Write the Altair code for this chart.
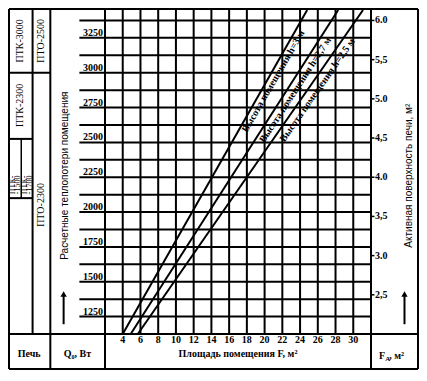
import altair as alt
import pandas as pd

# ---------------- data ----------------
F_GRID = [2, 4, 6, 8, 10, 12, 14, 16, 18, 20, 22, 24, 26, 28, 30, 32]
F_TICKS = [4, 6, 8, 10, 12, 14, 16, 18, 20, 22, 24, 26, 28, 30]
Q_GRID = [1125, 1250, 1375, 1500, 1625, 1750, 1875, 2000, 2125, 2250,
          2375, 2500, 2625, 2750, 2875, 3000, 3125, 3250, 3375]
Q_LABELS = [1250, 1500, 1750, 2000, 2250, 2500, 2750, 3000, 3250]
FA_TICKS = [2.5, 3.0, 3.5, 4.0, 4.5, 5.0, 5.5, 6.0]
FA_LABELS = ["2,5", "3.0", "3,5", "4.0", "4,5", "5.0", "5,5", "6.0"]

LINE_NAMES = ["Высота помещения h=3 м", "Высота помещения h=2,7 м", "Высота помещения h=2,5 м"]
LINE_F_START = [4.0, 4.9, 5.7]
LINE_F_END = [24.8, 28.3, 31.1]
LINE_Q_START = [1125, 1125, 1125]
LINE_Q_END = [3450, 3450, 3450]
LABEL_F = [20.4, 22.9, 25.4]
LABEL_Q = [2960, 2900, 2900]

STOVE_Q_TOP = 3000      # boundary ПТК-3000 / ПТК-2300
STOVE_Q_MID = 2525      # boundary ПТК-2300 / ПТК-1500,1700
STOVE_Q_LOW = 2100      # lower end of ПТК-1500 / ПТК-1700

# ---------------- layout ----------------
W, H = 266, 324
PAD = {"left": 97, "top": 2, "right": 48, "bottom": 36}
SX = W / 270.0
SY = H / 331.5
SERIF = "Liberation Serif"
SANS = "Liberation Sans"


def px(rx):
    return (rx - 103) * SX


def py(ry):
    return (ry - 5.5) * SY


L = -PAD["left"] + 1
R = W + PAD["right"] - 1
T = -1
B = H + PAD["bottom"] - 1

xs = alt.Scale(domain=[2, 32], nice=False, zero=False)
ys = alt.Scale(domain=[1125, 3450], nice=False, zero=False)
fas = alt.Scale(domain=[1125 / 562.5, 3450 / 562.5], nice=False, zero=False)

ONE = pd.DataFrame({"k": [0]})


def vrule(xp, y1, y2, w=2):
    return alt.Chart(ONE).mark_rule(color="black", strokeWidth=w).encode(
        x=alt.value(xp), y=alt.value(y1), y2=alt.value(y2))


def hrule(yp, x1, x2, w=2):
    return alt.Chart(ONE).mark_rule(color="black", strokeWidth=w).encode(
        y=alt.value(yp), x=alt.value(x1), x2=alt.value(x2))


def label(text, xp, yp, size=10, angle=0, font=SERIF, weight="normal",
          align="center", baseline="middle"):
    return alt.Chart(pd.DataFrame({"t": [text]})).mark_text(
        font=font, fontSize=size, fontWeight=weight, align=align,
        baseline=baseline, color="black", angle=angle).encode(
        x=alt.value(xp), y=alt.value(yp), text="t:N")


layers = []

# grid
grid_v = alt.Chart(pd.DataFrame({"F": F_GRID})).mark_rule(color="black", strokeWidth=2).encode(
    x=alt.X("F:Q", scale=xs, axis=None), y=alt.value(0), y2=alt.value(H))
grid_h = alt.Chart(pd.DataFrame({"Q": Q_GRID})).mark_rule(color="black", strokeWidth=2).encode(
    y=alt.Y("Q:Q", scale=ys, axis=None), x=alt.value(px(77)), x2=alt.value(W))
layers += [grid_v, grid_h]

# data lines
rows = []
for name, f0, f1, q0, q1 in zip(LINE_NAMES, LINE_F_START, LINE_F_END, LINE_Q_START, LINE_Q_END):
    rows.append({"h": name, "F": f0, "Q": q0})
    rows.append({"h": name, "F": f1, "Q": q1})
lines = alt.Chart(pd.DataFrame(rows)).mark_line(color="black", strokeWidth=2).encode(
    x=alt.X("F:Q", scale=xs, axis=None), y=alt.Y("Q:Q", scale=ys, axis=None), detail="h:N")
layers.append(lines)

for name, f, q, ang in zip(LINE_NAMES, LABEL_F, LABEL_Q, [300, 303, 305]):
    layers.append(
        alt.Chart(pd.DataFrame({"F": [f], "Q": [q], "t": [name]})).mark_text(
            font=SERIF, fontSize=10, fontWeight="bold", angle=ang, align="center",
            baseline="top", dy=1, color="black").encode(
            x=alt.X("F:Q", scale=xs, axis=None), y=alt.Y("Q:Q", scale=ys, axis=None), text="t:N"))

# x tick labels
layers.append(alt.Chart(pd.DataFrame({"F": F_TICKS})).mark_text(
    font=SERIF, fontSize=10, fontWeight="bold", baseline="middle", color="black").encode(
    x=alt.X("F:Q", scale=xs, axis=None), y=alt.value(py(343)), text="F:Q"))

# left tick labels
layers.append(alt.Chart(pd.DataFrame({"Q": Q_LABELS})).mark_text(
    font=SERIF, fontSize=10, fontWeight="bold", align="right", baseline="alphabetic",
    dy=-2, color="black").encode(
    y=alt.Y("Q:Q", scale=ys, axis=None), x=alt.value(px(101)), text="Q:Q"))

# right axis (F_A)
fa_df = pd.DataFrame({"FA": FA_TICKS, "lab": FA_LABELS})
layers.append(alt.Chart(fa_df).mark_rule(color="black", strokeWidth=1.5).encode(
    y=alt.Y("FA:Q", scale=fas, axis=None), x=alt.value(W), x2=alt.value(px(376.5))))
layers.append(alt.Chart(fa_df).mark_text(
    font=SERIF, fontSize=10, fontWeight="bold", align="left", baseline="middle", color="black").encode(
    y=alt.Y("FA:Q", scale=fas, axis=None), x=alt.value(px(377)), text="lab:N"))

# table frame
layers += [
    hrule(T, L, R), hrule(B, L, R), vrule(L, T, B), vrule(R, T, B),
    hrule(H, L, R),
    vrule(px(29.5), T, H), vrule(px(47.5), T, B), vrule(0, T, B), vrule(W, T, B),
]
# stove cell boundaries
layers.append(alt.Chart(pd.DataFrame({"Q": [STOVE_Q_TOP]})).mark_rule(color="black", strokeWidth=2).encode(
    y=alt.Y("Q:Q", scale=ys, axis=None), x=alt.value(L), x2=alt.value(px(47.5))))
layers.append(alt.Chart(pd.DataFrame({"Q": [STOVE_Q_MID, STOVE_Q_LOW]})).mark_rule(color="black", strokeWidth=2).encode(
    y=alt.Y("Q:Q", scale=ys, axis=None), x=alt.value(L), x2=alt.value(px(29.5))))
layers.append(alt.Chart(pd.DataFrame({"Q1": [STOVE_Q_MID], "Q2": [STOVE_Q_LOW]})).mark_rule(color="black", strokeWidth=1.5).encode(
    y=alt.Y("Q1:Q", scale=ys, axis=None), y2="Q2:Q", x=alt.value(px(18))))

# texts in left columns
layers += [
    label("ПТК-3000", px(17), py(37), size=10, angle=270),
    label("ПТО-2500", px(38.5), py(37), size=10, angle=270),
    label("ПТК-2300", px(17), py(103), size=10, angle=270),
    label("ПТК-", px(10), py(194), size=8, angle=270, align="left"),
    label("-1500", px(14.8), py(194), size=8, angle=270, align="left"),
    label("ПТК-", px(22), py(194), size=8, angle=270, align="left"),
    label("-1700", px(26.6), py(194), size=8, angle=270, align="left"),
    label("ПТО-2300", px(38.5), py(205), size=10, angle=270),
    label("Расчетные теплопотери помещения", px(62), py(175), size=10, angle=270, font=SANS),
    label("Активная поверхность печи, м²", px(412), py(175), size=10, angle=270, font=SANS),
    label("Печь", px(26), py(357), size=10, weight="bold"),
    label("Q₀, Вт", px(75), py(357), size=10, weight="bold"),
    label("Площадь помещения F, м²", px(238), py(357), size=10, weight="bold"),
    label("F", px(381), py(360), size=10, weight="bold", align="left"),
    label("A", px(387.5), py(363), size=7, weight="bold", align="left"),
    label(", м²", px(391.5), py(360), size=10, weight="bold", align="left"),
]

# arrows
for ax in (61, 407):
    layers.append(vrule(px(ax), py(298), py(327), w=2))
    layers.append(alt.Chart(ONE).mark_point(shape="triangle-up", filled=True, size=40,
                                            color="black", opacity=1).encode(
        x=alt.value(px(ax)), y=alt.value(py(296))))

chart = alt.layer(*layers).resolve_scale(y="independent").properties(
    width=W, height=H, padding=PAD, autosize=alt.AutoSizeParams(type="none"),
    background="white",
).configure_view(stroke=None)

chart.save("out.html", embed_options={"renderer": "svg", "actions": False})
